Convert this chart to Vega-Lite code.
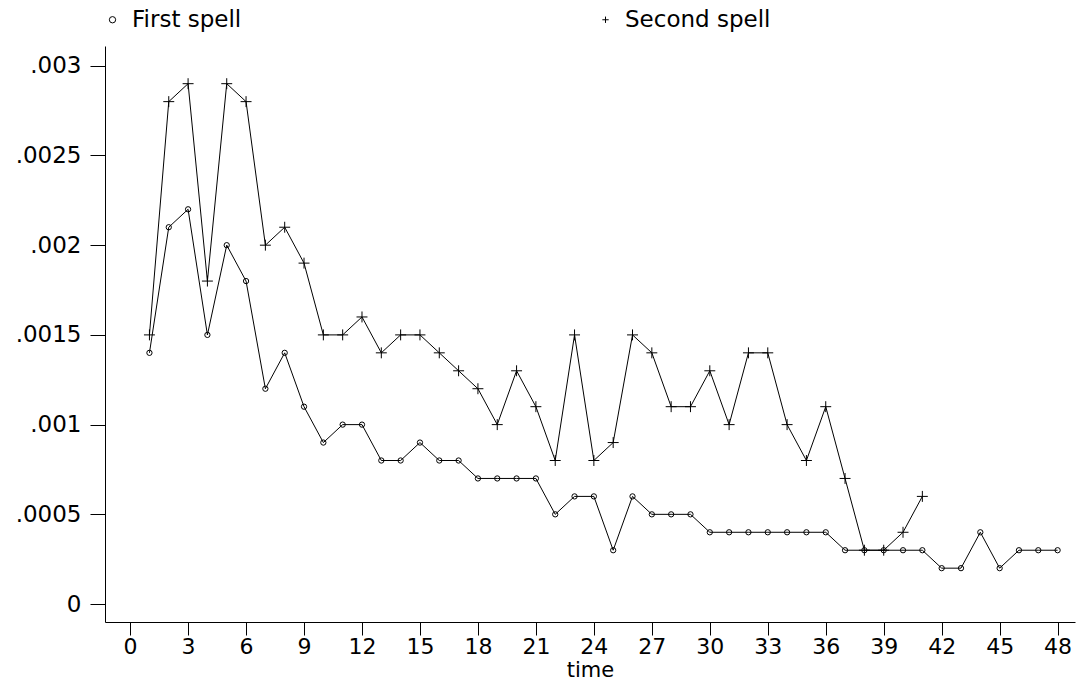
{
  "$schema": "https://vega.github.io/schema/vega-lite/v6.json",
  "width": 970,
  "height": 576,
  "autosize": {"type": "none"},
  "padding": {"left": 105, "top": 46, "right": 10, "bottom": 62},
  "background": "white",
  "config": {
    "view": {"stroke": null},
    "font": "DejaVu Sans",
    "axis": {"grid": false, "domainColor": "black", "tickColor": "black", "labelColor": "black", "titleColor": "black", "labelFont": "DejaVu Sans", "titleFont": "DejaVu Sans", "labelFontSize": 23, "titleFontSize": 21, "titleFontWeight": "normal", "domainWidth": 1, "tickWidth": 1}
  },
  "data": {"values": [
    {"time":1,"series":"First spell","rate":0.0014},
    {"time":2,"series":"First spell","rate":0.0021},
    {"time":3,"series":"First spell","rate":0.0022},
    {"time":4,"series":"First spell","rate":0.0015},
    {"time":5,"series":"First spell","rate":0.0020},
    {"time":6,"series":"First spell","rate":0.0018},
    {"time":7,"series":"First spell","rate":0.0012},
    {"time":8,"series":"First spell","rate":0.0014},
    {"time":9,"series":"First spell","rate":0.0011},
    {"time":10,"series":"First spell","rate":0.0009},
    {"time":11,"series":"First spell","rate":0.0010},
    {"time":12,"series":"First spell","rate":0.0010},
    {"time":13,"series":"First spell","rate":0.0008},
    {"time":14,"series":"First spell","rate":0.0008},
    {"time":15,"series":"First spell","rate":0.0009},
    {"time":16,"series":"First spell","rate":0.0008},
    {"time":17,"series":"First spell","rate":0.0008},
    {"time":18,"series":"First spell","rate":0.0007},
    {"time":19,"series":"First spell","rate":0.0007},
    {"time":20,"series":"First spell","rate":0.0007},
    {"time":21,"series":"First spell","rate":0.0007},
    {"time":22,"series":"First spell","rate":0.0005},
    {"time":23,"series":"First spell","rate":0.0006},
    {"time":24,"series":"First spell","rate":0.0006},
    {"time":25,"series":"First spell","rate":0.0003},
    {"time":26,"series":"First spell","rate":0.0006},
    {"time":27,"series":"First spell","rate":0.0005},
    {"time":28,"series":"First spell","rate":0.0005},
    {"time":29,"series":"First spell","rate":0.0005},
    {"time":30,"series":"First spell","rate":0.0004},
    {"time":31,"series":"First spell","rate":0.0004},
    {"time":32,"series":"First spell","rate":0.0004},
    {"time":33,"series":"First spell","rate":0.0004},
    {"time":34,"series":"First spell","rate":0.0004},
    {"time":35,"series":"First spell","rate":0.0004},
    {"time":36,"series":"First spell","rate":0.0004},
    {"time":37,"series":"First spell","rate":0.0003},
    {"time":38,"series":"First spell","rate":0.0003},
    {"time":39,"series":"First spell","rate":0.0003},
    {"time":40,"series":"First spell","rate":0.0003},
    {"time":41,"series":"First spell","rate":0.0003},
    {"time":42,"series":"First spell","rate":0.0002},
    {"time":43,"series":"First spell","rate":0.0002},
    {"time":44,"series":"First spell","rate":0.0004},
    {"time":45,"series":"First spell","rate":0.0002},
    {"time":46,"series":"First spell","rate":0.0003},
    {"time":47,"series":"First spell","rate":0.0003},
    {"time":48,"series":"First spell","rate":0.0003},
    {"time":1,"series":"Second spell","rate":0.0015},
    {"time":2,"series":"Second spell","rate":0.0028},
    {"time":3,"series":"Second spell","rate":0.0029},
    {"time":4,"series":"Second spell","rate":0.0018},
    {"time":5,"series":"Second spell","rate":0.0029},
    {"time":6,"series":"Second spell","rate":0.0028},
    {"time":7,"series":"Second spell","rate":0.0020},
    {"time":8,"series":"Second spell","rate":0.0021},
    {"time":9,"series":"Second spell","rate":0.0019},
    {"time":10,"series":"Second spell","rate":0.0015},
    {"time":11,"series":"Second spell","rate":0.0015},
    {"time":12,"series":"Second spell","rate":0.0016},
    {"time":13,"series":"Second spell","rate":0.0014},
    {"time":14,"series":"Second spell","rate":0.0015},
    {"time":15,"series":"Second spell","rate":0.0015},
    {"time":16,"series":"Second spell","rate":0.0014},
    {"time":17,"series":"Second spell","rate":0.0013},
    {"time":18,"series":"Second spell","rate":0.0012},
    {"time":19,"series":"Second spell","rate":0.0010},
    {"time":20,"series":"Second spell","rate":0.0013},
    {"time":21,"series":"Second spell","rate":0.0011},
    {"time":22,"series":"Second spell","rate":0.0008},
    {"time":23,"series":"Second spell","rate":0.0015},
    {"time":24,"series":"Second spell","rate":0.0008},
    {"time":25,"series":"Second spell","rate":0.0009},
    {"time":26,"series":"Second spell","rate":0.0015},
    {"time":27,"series":"Second spell","rate":0.0014},
    {"time":28,"series":"Second spell","rate":0.0011},
    {"time":29,"series":"Second spell","rate":0.0011},
    {"time":30,"series":"Second spell","rate":0.0013},
    {"time":31,"series":"Second spell","rate":0.0010},
    {"time":32,"series":"Second spell","rate":0.0014},
    {"time":33,"series":"Second spell","rate":0.0014},
    {"time":34,"series":"Second spell","rate":0.0010},
    {"time":35,"series":"Second spell","rate":0.0008},
    {"time":36,"series":"Second spell","rate":0.0011},
    {"time":37,"series":"Second spell","rate":0.0007},
    {"time":38,"series":"Second spell","rate":0.0003},
    {"time":39,"series":"Second spell","rate":0.0003},
    {"time":40,"series":"Second spell","rate":0.0004},
    {"time":41,"series":"Second spell","rate":0.0006}
  ]},
  "encoding": {
    "x": {"field": "time", "type": "quantitative",
      "scale": {"domain": [-1.3, 48.9], "nice": false, "zero": false},
      "axis": {"values": [0,3,6,9,12,15,18,21,24,27,30,33,36,39,42,45,48], "tickSize": 13, "labelPadding": 1, "labelFontSize": 22, "title": "time", "titlePadding": 2}},
    "y": {"field": "rate", "type": "quantitative",
      "scale": {"domain": [-0.0001, 0.00311], "nice": false, "zero": false},
      "axis": {"values": [0, 0.0005, 0.001, 0.0015, 0.002, 0.0025, 0.003], "tickSize": 15, "labelPadding": 9, "title": null,
        "labelExpr": "datum.value == 0 ? '0' : substring(toString(datum.value), 1)"}}
  },
  "layer": [
    {
      "mark": {"type": "line", "color": "black", "strokeWidth": 1},
      "encoding": {"detail": {"field": "series", "type": "nominal"}}
    },
    {
      "mark": {"type": "point", "color": "black", "filled": false, "strokeWidth": 1, "opacity": 1},
      "encoding": {
        "shape": {"field": "series", "type": "nominal",
          "scale": {"domain": ["First spell", "Second spell"], "range": ["circle", "M-1,0H1M0,-1V1"]},
          "legend": {"orient": "none", "legendX": -4, "legendY": -38, "direction": "horizontal", "columns": 2, "columnPadding": 352, "title": null,
            "labelFontSize": 23, "labelFont": "DejaVu Sans", "labelColor": "black", "labelOffset": 8,
            "symbolStrokeColor": "black", "symbolFillColor": "transparent", "symbolStrokeWidth": 1, "symbolSize": 40}},
        "size": {"condition": {"test": "datum.series == 'Second spell'", "value": 120}, "value": 28}
      }
    }
  ]
}
